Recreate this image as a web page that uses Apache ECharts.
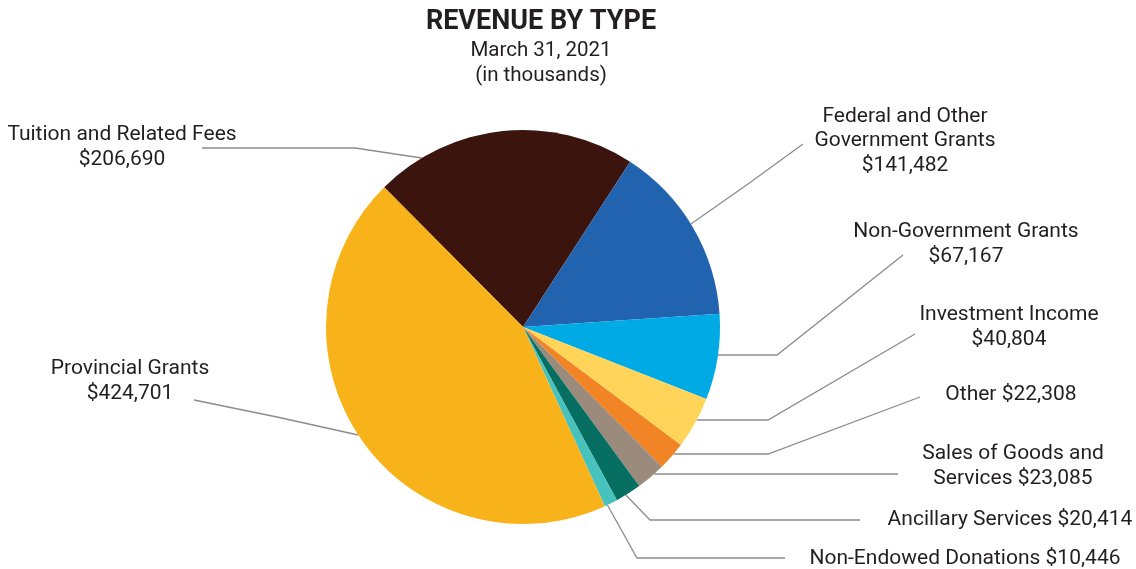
<!DOCTYPE html>
<html>
<head>
<meta charset="utf-8">
<title>Revenue by Type</title>
<script src="https://cdn.jsdelivr.net/npm/echarts@6/dist/echarts.min.js"></script>
<style>
  html, body { margin: 0; padding: 0; background: #ffffff; }
  #chart { width: 1136px; height: 569px; }
</style>
</head>
<body>
<div id="chart"></div>
<script>
// Revenue categories, clockwise from the top-left of the pie
const categories = [
  'Tuition and Related Fees',
  'Federal and Other\nGovernment Grants',
  'Non-Government Grants',
  'Investment Income',
  'Other',
  'Sales of Goods and\nServices',
  'Ancillary Services',
  'Non-Endowed Donations',
  'Provincial Grants'
];
// Amounts in thousands of dollars
const values = [206690, 141482, 67167, 40804, 22308, 23085, 20414, 10446, 424701];
// Whether the amount sits on its own line under the name
const amountOnNewLine = [true, true, true, true, false, false, false, false, true];

const colors = ['#3b140e', '#2263b0', '#00aae5', '#ffd458', '#f18424',
                '#9b8b7c', '#066f61', '#47c2bd', '#f8b31a'];

const PIE_CENTER = [523, 327];
const PIE_RADIUS = 197;

// Leader-line routing: where the line leaves the rim (y and side), its bends, and the label centre
const leaders = [
  { edgeY: 158, side: -1, bends: [[355, 148], [202, 148]], label: [122, 147] },
  { edgeY: 224, side: 1,  bends: [[748, 184], [803, 144]], label: [905, 141] },
  { edgeY: 355, side: 1,  bends: [[777, 355], [903, 255]], label: [966, 244] },
  { edgeY: 420, side: 1,  bends: [[768, 420], [915, 334]], label: [1009, 327] },
  { edgeY: 454, side: 1,  bends: [[768, 454], [920, 397]], label: [1011, 395] },
  { edgeY: 474, side: 1,  bends: [[780, 474], [898, 474]], label: [1013, 466] },
  { edgeY: 495, side: 1,  bends: [[650, 520], [860, 520]], label: [1010, 520] },
  { edgeY: 505, side: 1,  bends: [[637, 558], [785, 558]], label: [965, 559] },
  { edgeY: 435, side: -1, bends: [[277, 417], [194, 400]], label: [130, 381] }
];

function rimPoint(y, side) {
  const dy = y - PIE_CENTER[1];
  const dx = Math.sqrt(Math.max(0, PIE_RADIUS * PIE_RADIUS - dy * dy));
  return [PIE_CENTER[0] + side * dx, y];
}

function money(v) {
  return '$' + v.toLocaleString('en-US');
}

const FONT = 'Roboto, "Liberation Sans", sans-serif';

const chart = echarts.init(document.getElementById('chart'), null, { renderer: 'canvas' });

chart.setOption({
  backgroundColor: '#ffffff',
  animation: false,
  title: {
    text: 'REVENUE BY TYPE',
    subtext: 'March 31, 2021\n(in thousands)',
    left: 536,
    top: 4,
    textAlign: 'center',
    itemGap: 2,
    textStyle: { fontFamily: FONT, fontWeight: 'bold', fontSize: 27, color: '#231f20' },
    subtextStyle: { fontFamily: FONT, fontSize: 20.5, color: '#231f20', lineHeight: 25, align: 'center' }
  },
  series: [{
    type: 'pie',
    center: PIE_CENTER,
    radius: PIE_RADIUS,
    startAngle: 134.8,
    clockwise: true,
    avoidLabelOverlap: false,
    itemStyle: { borderWidth: 0 },
    label: {
      show: true,
      fontFamily: FONT,
      fontSize: 21,
      lineHeight: 24.5,
      color: '#231f20',
      align: 'center',
      formatter: function (p) {
        const i = p.dataIndex;
        return p.name + (amountOnNewLine[i] ? '\n' : ' ') + money(p.value);
      }
    },
    labelLine: {
      show: true,
      lineStyle: { color: '#8c8c8c', width: 1.3 }
    },
    labelLayout: function (params) {
      const spec = leaders[params.dataIndex];
      const pts = [rimPoint(spec.edgeY, spec.side)].concat(spec.bends);
      return {
        x: spec.label[0],
        y: spec.label[1],
        align: 'center',
        verticalAlign: 'middle',
        labelLinePoints: pts
      };
    },
    emphasis: { disabled: true },
    data: categories.map(function (name, i) {
      return { name: name, value: values[i], itemStyle: { color: colors[i] } };
    })
  }]
});
</script>
</body>
</html>
